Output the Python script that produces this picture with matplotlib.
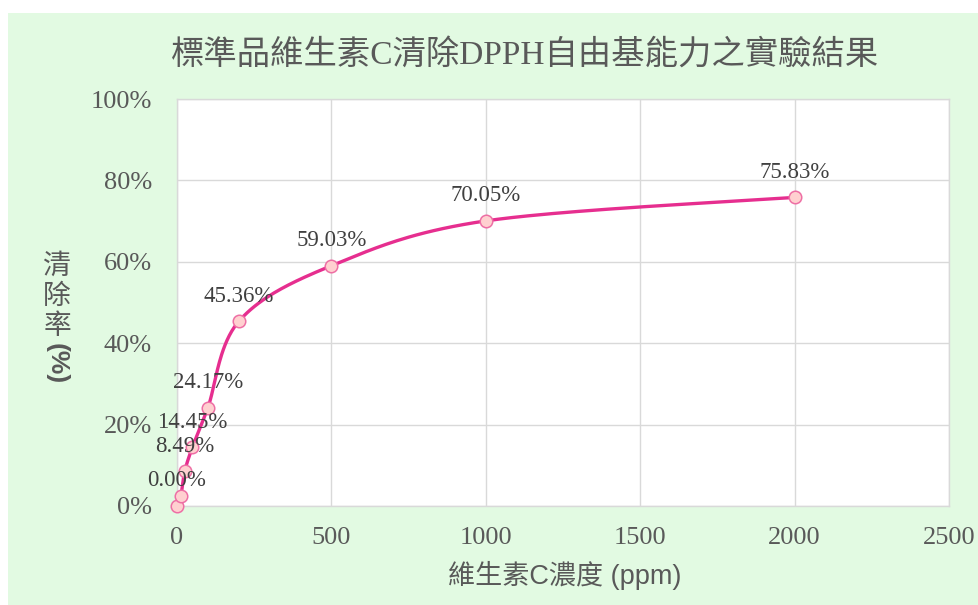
import numpy as np
import matplotlib
matplotlib.use("Agg")
import matplotlib.pyplot as plt
from matplotlib.patches import Rectangle

# Vitamin C concentration (ppm) and DPPH scavenging rate (%)
conc_ppm = [0, 12.5, 25, 50, 100, 200, 500, 1000, 2000]
scavenging = [0.00, 2.5, 8.49, 14.45, 24.17, 45.36, 59.03, 70.05, 75.83]
point_labels = ["0.00%", None, "8.49%", "14.45%", "24.17%", "45.36%", "59.03%", "70.05%", "75.83%"]

x_ticks = [0, 500, 1000, 1500, 2000, 2500]
y_ticks = [0, 20, 40, 60, 80, 100]
y_tick_labels = ["0%", "20%", "40%", "60%", "80%", "100%"]

title_text = "標準品維生素C清除DPPH自由基能力之實驗結果"
xlabel_text = "維生素C濃度 (ppm)"
ylabel_chars = ["清", "除", "率"]
ylabel_tail = "(%)"

W, H = 979, 605
fig = plt.figure(figsize=(W / 100, H / 100), dpi=100, facecolor="white")

# chart area background
fig.patches.append(Rectangle((8 / W, 0), 1 - 8 / W, (H - 13) / H,
                             transform=fig.transFigure, facecolor="#E2FAE2",
                             edgecolor="none", zorder=-10))

ax_l, ax_t, ax_r, ax_b = 177, 99, 949, 506
ax = fig.add_axes([ax_l / W, (H - ax_b) / H, (ax_r - ax_l) / W, (ax_b - ax_t) / H])
ax.set_zorder(1)
ax.set_facecolor("white")
ax.set_xlim(0, 2500)
ax.set_ylim(0, 100)

grid_c = "#D9D9D9"
for s in ax.spines.values():
    s.set_color(grid_c)
    s.set_linewidth(1.0)
ax.set_xticks(x_ticks)
ax.set_yticks(y_ticks)
ax.grid(True, color=grid_c, linewidth=1.0)
ax.set_axisbelow(True)
ax.tick_params(length=0, colors="#595959", labelsize=19)
ax.tick_params(axis="x", pad=15)
ax.tick_params(axis="y", pad=18)
serif = ["Liberation Serif", "DejaVu Serif"]
ax.set_xticklabels([str(v) for v in x_ticks], family=serif)
ax.set_yticklabels(y_tick_labels, family=serif)

# smooth curve: Catmull-Rom through the points, computed in screen proportions
xs = np.array(conc_ppm, dtype=float)
ys = np.array(scavenging, dtype=float)
sx = (ax_r - ax_l) / 2500.0
sy = (ax_b - ax_t) / 100.0
P = np.column_stack([xs * sx, ys * sy])
ext = np.vstack([P[0], P, P[-1]])
curve = []
for i in range(1, len(ext) - 2):
    p0, p1, p2, p3 = ext[i - 1], ext[i], ext[i + 1], ext[i + 2]
    c1 = p1 + (p2 - p0) / 6.0
    c2 = p2 - (p3 - p1) / 6.0
    t = np.linspace(0, 1, 40)[:, None]
    seg = ((1 - t) ** 3) * p1 + 3 * ((1 - t) ** 2) * t * c1 + 3 * (1 - t) * t ** 2 * c2 + t ** 3 * p2
    curve.append(seg)
curve = np.vstack(curve)
ax.plot(curve[:, 0] / sx, curve[:, 1] / sy, color="#E62E8F", linewidth=2.4,
        solid_capstyle="round", zorder=3, clip_on=False)
ax.plot(xs, ys, linestyle="none", marker="o", markersize=9,
        markerfacecolor="#FFD0D0", markeredgecolor="#EE6FA5", markeredgewidth=1.1,
        zorder=4, clip_on=False)

for x, y, lab in zip(conc_ppm, scavenging, point_labels):
    if lab is None:
        continue
    ax.annotate(lab, (x, y), xytext=(0, 18), textcoords="offset points",
                ha="center", va="center", fontsize=16.5, color="#404040",
                family=serif, zorder=5)

fig.text(525 / W, 1 - 55 / H, title_text,
         ha="center", va="center", fontsize=24, color="#595959",
         family=["Liberation Serif", "Noto Sans CJK TC"])

fig.text(565 / W, 1 - 575 / H, xlabel_text, ha="center", va="center",
         fontsize=19.5, color="#595959",
         family=["Liberation Sans", "Noto Sans CJK TC"])

cjk = ["Noto Sans CJK TC", "DejaVu Sans"]
for k, ch in enumerate(ylabel_chars):
    fig.text(57 / W, 1 - (266 + 30 * k) / H, ch, ha="center", va="center",
             fontsize=20, color="#595959", family=cjk)
fig.text(57 / W, 1 - 364 / H, ylabel_tail, ha="center", va="center",
         rotation=-90, fontsize=19, color="#595959", fontweight="bold",
         family=["Liberation Sans", "DejaVu Sans"])

fig.savefig("out.png", dpi=100, facecolor=fig.get_facecolor())
